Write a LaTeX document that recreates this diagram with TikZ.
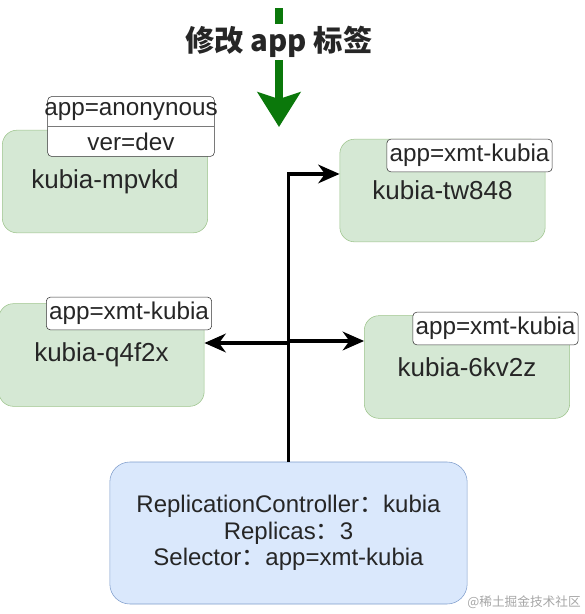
\documentclass[tikz,border=0pt]{standalone}
\usepackage{fontspec}
\setmainfont{Liberation Sans}
\newfontfamily\cjk{Noto Sans CJK SC}
\usetikzlibrary{arrows.meta, positioning, shapes.multipart}
\definecolor{podfill}{HTML}{D5E8D4}
\definecolor{podline}{HTML}{9CC38A}
\definecolor{rcfill}{HTML}{DAE8FC}
\definecolor{rcline}{HTML}{7E9CCB}
\definecolor{hintgreen}{HTML}{0B780B}

\begin{document}
\begin{tikzpicture}[x=0.75pt,y=-0.75pt,
		pod/.style={draw=podline,fill=podfill,rounded corners=11pt,minimum width=154pt,minimum height=77pt,font=\fontsize{19.5}{21}\selectfont,text=black!85},
		tag/.style={draw=black!80,fill=white,rounded corners=3pt,inner xsep=0pt,inner ysep=0pt,minimum width=124pt,minimum height=24.5pt,font=\fontsize{18.2}{19}\selectfont,text=black!85},
		rc/.style={draw=rcline,fill=rcfill,rounded corners=15pt,minimum width=268pt,minimum height=106.5pt,align=center,font=\fontsize{18}{19.9}\selectfont,text=black!85},
		wire/.style={line width=2.3pt,-{Stealth[length=16pt,width=14pt,inset=5pt]}},
		hint/.style={draw=hintgreen,line width=6pt,-{Stealth[length=26pt,width=32pt,inset=5pt]}}]
		\useasboundingbox (0,0) rectangle (585,614);

		\node[pod] (mpvkd) at (105,181.5) {kubia-mpvkd};
		\node[pod] (tw) at (442.5,190.5) {kubia-tw848};
		\node[pod] (q4) at (101.5,355) {kubia-q4f2x};
		\node[pod] (kv) at (467,367) {kubia-6kv2z};
		\node[rc] (rc) at (288.5,533) {ReplicationController{\cjk ：}kubia\\Replicas{\cjk ：}3\\Selector{\cjk ：}app=xmt-kubia};

		\node[tag,rectangle split,rectangle split parts=2,minimum height=0pt,text width=125pt,align=center,inner ysep=4.3pt] (mpvkdtag) at (131,126.5) {\makebox[125pt][c]{app=anonynous}\nodepart{two}ver=dev};
		\node[tag] (twtag) at (469.5,155.5) {app=xmt-kubia};
		\node[tag] (q4tag) at (129,313.5) {app=xmt-kubia};
		\node[tag] (kvtag) at (495.5,328.5) {app=xmt-kubia};

		\draw[wire] (rc.north) |- ([yshift=12.4pt]tw.west);
		\draw[wire] (rc.north) |- ([yshift=9pt]q4.east);
		\draw[wire] (rc.north) |- ([yshift=19.5pt]kv.west);

		\coordinate (hintsrc) at (279,8);
		\coordinate (hintdst) at (279,127);
		\draw[hint] (hintsrc) -- node[pos=0.286,fill=white,inner xsep=3pt,inner ysep=1.5pt,text=black!85,font={\cjk\bfseries\fontsize{22}{24}\selectfont}] (title) {修改 app 标签} (hintdst);

		\node[anchor=south east,inner sep=0pt,text=black!35,font={\cjk\fontsize{9.5}{11}\selectfont}] (mark) at (581,609) {@稀土掘金技术社区};
	\end{tikzpicture}
\end{document}
